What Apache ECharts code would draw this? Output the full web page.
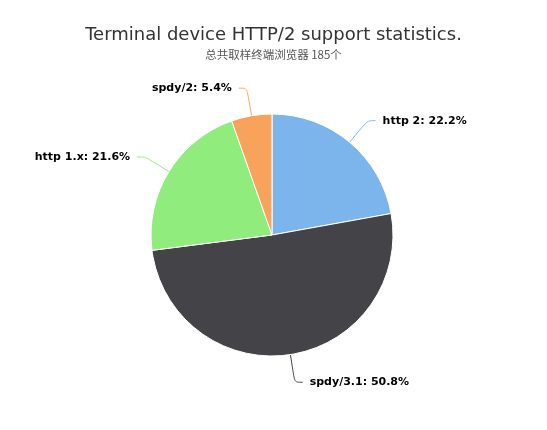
<!DOCTYPE html>
<html>
<head>
<meta charset="utf-8">
<script src="https://cdn.jsdelivr.net/npm/echarts@6/dist/echarts.min.js"></script>
<style>
  html, body { margin: 0; padding: 0; background: #fff; }
  #chart { width: 547px; height: 430px; }
</style>
</head>
<body>
<div id="chart"></div>
<script>
// samples per protocol (185 browsers in total)
const categories = ['http 2', 'spdy/3.1', 'http 1.x', 'spdy/2'];
const counts = [41, 94, 40, 10];
const colors = ['#7cb5ec', '#434348', '#90ed7d', '#f7a35c'];

const chart = echarts.init(document.getElementById('chart'));

chart.setOption({
  animation: false,
  title: {
    text: 'Terminal device HTTP/2 support statistics.',
    subtext: '总共取样终端浏览器 185个',
    left: 'center',
    top: 21,
    itemGap: 5,
    textStyle: { fontFamily: 'DejaVu Sans', fontSize: 18, fontWeight: 'normal', color: '#333' },
    subtextStyle: { fontFamily: 'Noto Sans CJK SC', fontSize: 11.5, color: '#555' }
  },
  series: [{
    type: 'pie',
    center: [272, 235],
    radius: 121,
    startAngle: 90,
    clockwise: true,
    data: categories.map((name, i) => ({
      name: name,
      value: counts[i],
      itemStyle: { color: colors[i] },
      labelLine: { lineStyle: { color: colors[i] } }
    })),
    itemStyle: { borderColor: '#fff', borderWidth: 1 },
    label: {
      formatter: p => p.name + ': ' + p.percent.toFixed(1) + '%',
      fontFamily: 'DejaVu Sans',
      fontSize: 11,
      fontWeight: 'bold',
      color: '#000',
      distanceToLabelLine: 7
    },
    labelLine: { length: 28, length2: 8, smooth: 0.3, lineStyle: { width: 1 } }
  }]
});
</script>
</body>
</html>
